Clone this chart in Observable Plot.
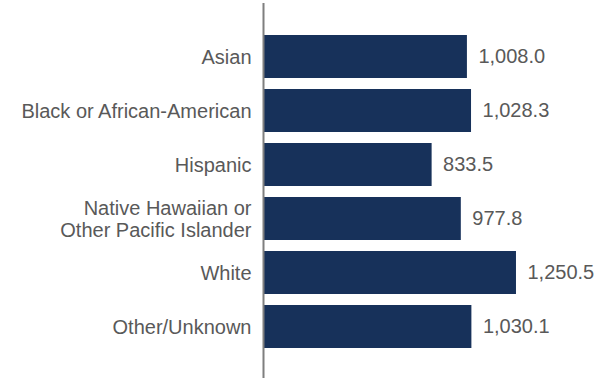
<!DOCTYPE html>
<html>
<head>
<meta charset="utf-8">
<script src="https://cdn.jsdelivr.net/npm/d3@7"></script>
<script src="https://cdn.jsdelivr.net/npm/@observablehq/plot@0.6"></script>
<style>
  html, body { margin: 0; padding: 0; background: #fff; }
  #chart svg { display: block; }
</style>
</head>
<body>
<div id="chart"></div>
<script>
const categories = [
  "Asian",
  "Black or African-American",
  "Hispanic",
  "Native Hawaiian or Other Pacific Islander",
  "White",
  "Other/Unknown"
];
const labels = [
  "Asian",
  "Black or African-American",
  "Hispanic",
  "Native Hawaiian or\nOther Pacific Islander",
  "White",
  "Other/Unknown"
];
const values = [1008.0, 1028.3, 833.5, 977.8, 1250.5, 1030.1];

const data = categories.map((c, i) => ({category: c, label: labels[i], value: values[i]}));
const fmt = d3.format(",.1f");

const chart = Plot.plot({
  width: 605,
  height: 378,
  marginTop: 3,
  marginBottom: 0,
  marginLeft: 0,
  marginRight: 0,
  style: {fontFamily: "'Liberation Sans', Arial, sans-serif", background: "#fff"},
  x: {domain: [0, 1000], range: [263, 465.3], axis: null},
  y: {domain: categories, range: [30, 354], paddingInner: 0.2, paddingOuter: 0.1, axis: null},
  marks: [
    Plot.barX(data, {x: "value", y: "category", fill: "#17315a"}),
    Plot.ruleX([0], {stroke: "#7f7f7f", strokeWidth: 2}),
    Plot.text(data, {
      x: 0, y: "category", text: "label", textAnchor: "end", dx: -12,
      fontSize: 20, fill: "#595959", lineHeight: 1.1
    }),
    Plot.text(data, {
      x: "value", y: "category", text: d => fmt(d.value), textAnchor: "start", dx: 11,
      fontSize: 20, fill: "#595959"
    })
  ]
});
document.getElementById("chart").appendChild(chart);
</script>
</body>
</html>
